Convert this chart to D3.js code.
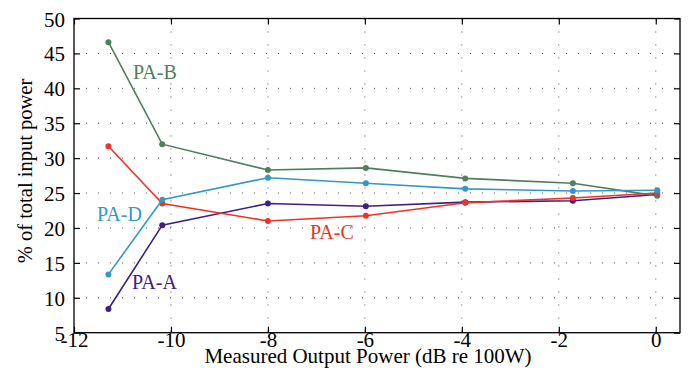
<!DOCTYPE html>
<html><head><meta charset="utf-8">
<script src="https://cdn.jsdelivr.net/npm/d3@7"></script>
<style>body{margin:0;background:#fff}svg{display:block}</style>
</head><body><svg id="c" width="688" height="371"></svg>
<script>
const xValues = [-11.29, -10.18, -8.0, -5.98, -3.93, -1.71, 0.03];
const paA = [8.4, 20.4, 23.5, 23.1, 23.7, 23.9, 24.8];
const paB = [46.6, 32.0, 28.3, 28.6, 27.1, 26.4, 24.6];
const paC = [31.7, 23.5, 21.0, 21.75, 23.6, 24.3, 25.0];
const paD = [13.35, 24.05, 27.2, 26.4, 25.6, 25.3, 25.4];
const seriesNames = ["PA-A", "PA-B", "PA-C", "PA-D"];
const xTicks = [-12, -10, -8, -6, -4, -2, 0];
const yTicks = [5, 10, 15, 20, 25, 30, 35, 40, 45, 50];
const xLabel = "Measured Output Power (dB re 100W)";
const yLabel = "% of total input power";

const FONT = "Liberation Serif";
const colors = {"PA-A": "#3c2184", "PA-B": "#4f7f5c", "PA-C": "#ee3326", "PA-D": "#3298c8"};
const values = {"PA-A": paA, "PA-B": paB, "PA-C": paC, "PA-D": paD};
const labelPos = {"PA-A": [132, 289], "PA-B": [133, 79], "PA-C": [310, 239], "PA-D": [97, 221]};

const L = 74, R = 680, T = 18.5, B = 332.7;
const svg = d3.select("#c");
const x = d3.scaleLinear().domain([-12, 0.5]).range([L, R]);
const y = d3.scaleLinear().domain([5, 50]).range([B, T]);

// grid
const g = svg.append("g");
g.selectAll(".vg").data(xTicks.filter(t => t > -12)).enter().append("line")
  .attr("x1", d => x(d)).attr("x2", d => x(d)).attr("y1", T).attr("y2", B)
  .attr("stroke", "#555").attr("stroke-width", 1).attr("stroke-dasharray", "1,12");
g.selectAll(".hg").data(yTicks.filter(t => t > 5 && t < 50)).enter().append("line")
  .attr("x1", L).attr("x2", R).attr("y1", d => y(d)).attr("y2", d => y(d))
  .attr("stroke", "#555").attr("stroke-width", 1).attr("stroke-dasharray", "1,11");

// axes
const tick = 6;
const fmt = d => String(d);
const ax = svg.append("g").attr("transform", `translate(0,${B})`)
  .call(d3.axisBottom(x).tickValues(xTicks).tickSize(-tick).tickFormat(fmt));
const ay = svg.append("g").attr("transform", `translate(${L},0)`)
  .call(d3.axisLeft(y).tickValues(yTicks).tickSize(-tick).tickPadding(9).tickFormat(fmt));
const axT = svg.append("g").attr("transform", `translate(0,${T})`)
  .call(d3.axisTop(x).tickValues(xTicks).tickSize(-tick).tickFormat(""));
const ayR = svg.append("g").attr("transform", `translate(${R},0)`)
  .call(d3.axisRight(y).tickValues(yTicks).tickSize(-tick).tickFormat(""));
[ax, ay, axT, ayR].forEach(a => {
  a.attr("font-family", FONT).attr("font-size", 21);
  a.selectAll(".domain").remove();
  a.selectAll("line").attr("stroke", "#000").attr("stroke-width", 1.2);
  a.selectAll("text").attr("fill", "#000");
});
ax.selectAll("text").attr("y", 14.5).attr("dy", 0);
ay.selectAll("text").attr("dy", "0.36em");
svg.append("rect").attr("x", L).attr("y", T).attr("width", R - L).attr("height", B - T)
  .attr("fill", "none").attr("stroke", "#000").attr("stroke-width", 1.3);

// lines
const line = d3.line().x((d, i) => x(xValues[i])).y(d => y(d));
seriesNames.forEach(n => {
  svg.append("path").datum(values[n]).attr("d", line).attr("fill", "none")
    .attr("stroke", colors[n]).attr("stroke-width", 1.6);
  svg.selectAll(".m" + n).data(values[n]).enter().append("circle")
    .attr("cx", (d, i) => x(xValues[i])).attr("cy", d => y(d)).attr("r", 3)
    .attr("fill", colors[n]);
  svg.append("text").attr("x", labelPos[n][0]).attr("y", labelPos[n][1])
    .attr("fill", colors[n]).attr("font-family", FONT).attr("font-size", 20).text(n);
});

svg.append("text").attr("x", 368).attr("y", 363).attr("text-anchor", "middle")
  .attr("font-family", FONT).attr("font-size", 21).attr("fill", "#000").text(xLabel);
svg.append("text").attr("transform", "translate(32,171) rotate(-90)").attr("text-anchor", "middle")
  .attr("font-family", FONT).attr("font-size", 20.5).attr("fill", "#000").text(yLabel);
</script></body></html>
